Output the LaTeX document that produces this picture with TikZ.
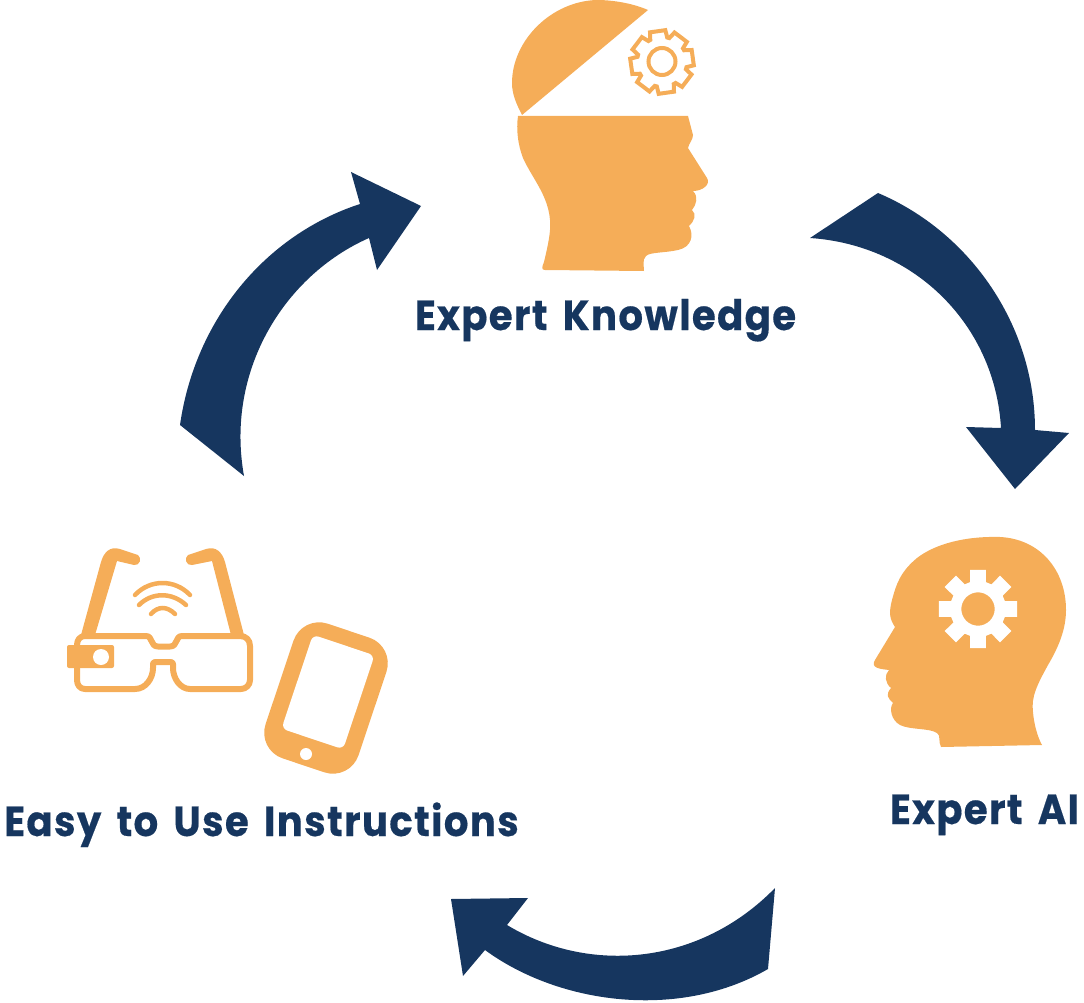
\documentclass[tikz,border=0pt]{standalone}
\usepackage{fontspec}
\setmainfont{Poppins}
\newfontfamily\labelfont[LetterSpace=3.2,WordSpace=1.6,FakeStretch=0.92,BoldFont={Poppins Bold},BoldFeatures={FakeBold=0.4}]{Poppins}
\definecolor{amber}{HTML}{F5AD58}
\definecolor{navy}{HTML}{16365F}
\tikzset{
  caption/.style={text=navy,inner sep=0pt,font=\labelfont\bfseries\fontsize{42}{42}\selectfont},
  bigarrow/.style={fill=navy,draw=none},
  headshape/.style={fill=amber,draw=none},
  glassline/.style={draw=amber,line width=6pt,line join=round},
  wave/.style={draw=amber,line width=4.5pt,line cap=round}
}
\begin{document}
\begin{tikzpicture}[x=1pt,y=-1pt]
\useasboundingbox (0,0) rectangle (1084,1003);
% arrows
\path[bigarrow] (810,238) .. controls (915,245) and (995,325) .. (1001,428) -- (966,427) -- (1015,489) -- (1069,433) -- (1035,430) .. controls (1035,325) and (970,232) .. (878,193) -- cycle;
\path[bigarrow] (244,476) .. controls (225,370) and (285,275) .. (369,238) -- (377,270) -- (421,206) -- (351,172) -- (360,204) .. controls (265,235) and (195,320) .. (180,425) -- cycle;
\path[bigarrow] (775,888) .. controls (700,965) and (590,975) .. (507,925) -- (528,898) -- (451,899) -- (463,976) -- (485,950) .. controls (560,1005) and (680,1020) .. (768,969) -- cycle;
% head 1
\path[headshape] (648,10) .. controls (632,3) and (612,0) .. (597,0) .. controls (552,1) and (512,40) .. (512,83) .. controls (512,95) and (517,105) .. (522,115) -- cycle;
\path[headshape] (518,116) -- (688,116) -- (693,135) .. controls (693,140) and (689,143) .. (688,148) -- (707,178) .. controls (711,184) and (703,191) .. (693,191) .. controls (699,197) and (696,205) .. (692,210) .. controls (697,214) and (694,222) .. (689,226) .. controls (694,235) and (692,247) .. (678,250) .. controls (665,253) and (650,252) .. (646,256) .. controls (642,260) and (644,266) .. (644,271) -- (545,270) .. controls (541,270) and (542,267) .. (544,262) .. controls (548,245) and (551,232) .. (550,220) .. controls (548,195) and (532,178) .. (523,158) .. controls (518,145) and (516,130) .. (518,116) -- cycle;
\draw[amber,line width=4pt,line join=miter,shift={(662,62)},rotate=8] (-20:25) \foreach \a in {0,45,...,315} { -- (\a-20:25) -- (\a-14:32) -- (\a+14:32) -- (\a+20:25) } -- cycle;
\draw[amber,line width=4pt] (662,61.5) circle (13.5);
% head 2
\path[headshape] (1042,745) -- (941,747) .. controls (938,742) and (941,735) .. (937,733) .. controls (930,728) and (910,730) .. (900,725) .. controls (891,720) and (889,708) .. (893,703) .. controls (888,698) and (885,695) .. (891,688) .. controls (885,683) and (884,675) .. (889,670) .. controls (880,669) and (870,668) .. (875,660) -- (895,627) .. controls (889,618) and (889,612) .. (892,600) .. controls (896,585) and (900,572) .. (917,558) .. controls (935,544) and (965,536) .. (1000,537) .. controls (1040,539) and (1066,570) .. (1066,610) .. controls (1066,630) and (1058,648) .. (1048,665) .. controls (1037,685) and (1031,697) .. (1033,712) .. controls (1034,725) and (1038,738) .. (1042,745) -- cycle;
\fill[white,even odd rule,shift={(978,609)}] (-16:28) \foreach \a in {0,45,...,315} { -- (\a-16.5:28) -- (\a-11.5:40) -- (\a+11.5:40) -- (\a+16.5:28) } -- cycle (0,0) circle (16.7);
% glasses
\fill[amber] (81,635) -- (101,562) .. controls (104,552) and (110,546) .. (120,549) -- (138,555) .. controls (142,558) and (140,566) .. (134,565) -- (117,561) -- (95,635) -- cycle;
\fill[amber] (244,635) -- (225,562) .. controls (222,552) and (216,546) .. (206,549) -- (188,555) .. controls (184,558) and (186,566) .. (192,565) -- (212,561) -- (231,635) -- cycle;
\draw[glassline] (77,660) -- (77,645) .. controls (77,640) and (80,636) .. (85,636) -- (146,636) .. controls (153,636) and (150,646.5) .. (158,646.5) -- (170,646.5) .. controls (178,646.5) and (175,636) .. (182,636) -- (240,636) .. controls (246,636) and (250,640) .. (250,646) -- (250,680) .. controls (250,685) and (246,689) .. (241,689) -- (190,689) .. controls (180,689) and (173,678) .. (173,668) -- (173,664) .. controls (173,662.5) and (172,662) .. (170,662) -- (156,662) .. controls (154,662) and (153,662.5) .. (153,664) -- (153,668) .. controls (153,678) and (146,689) .. (135,689) -- (85,689) .. controls (80,689) and (77,685) .. (77,680) -- cycle;
\fill[amber,rounded corners=2pt] (67,645) rectangle (114,668);
\fill[white] (101,657) circle (8);
\draw[wave] (135,595) .. controls (150,579) and (175,579) .. (190,595);
\draw[wave] (139,605) .. controls (152,592) and (172,592) .. (186,605);
\draw[wave] (151,614) .. controls (158,606) and (167,606) .. (175,614);
% phone
\begin{scope}[shift={(326,698)},rotate=-18.5]
\fill[amber,rounded corners=27pt] (-49,-71) rectangle (49,71);
\end{scope}
\begin{scope}[shift={(328,692)},rotate=-18.5]
\fill[white,rounded corners=6pt] (-32.5,-49.5) rectangle (32.5,49.5);
\end{scope}
\fill[white] (306,754) circle (6);
% captions
\node[caption,anchor=base] (knowledge) at (605.5,330) {Expert Knowledge};
\node[caption,anchor=base] (ai) at (984.5,824) {Expert AI};
\node[caption,anchor=base] (easy) at (261.5,836) {Easy to Use Instructions};
\end{tikzpicture}
\end{document}
